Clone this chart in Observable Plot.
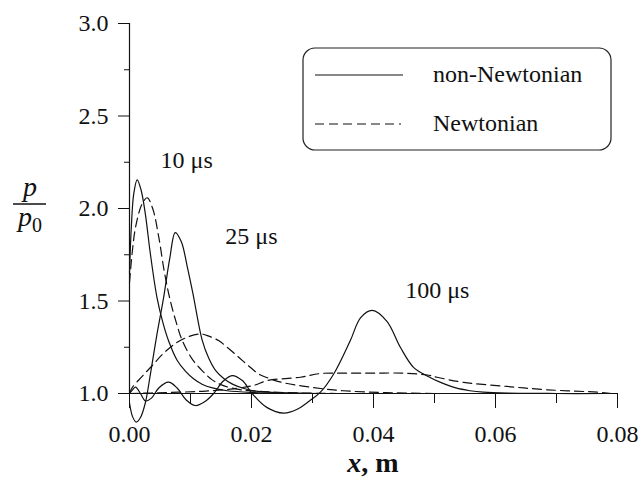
<!DOCTYPE html>
<html><head><meta charset="utf-8">
<script src="https://cdn.jsdelivr.net/npm/d3@7"></script>
<script src="https://cdn.jsdelivr.net/npm/@observablehq/plot@0.6"></script>
<style>
body{margin:0;background:#fff}
#chart svg, #chart svg text, #chart svg tspan { font-family: "Liberation Serif", serif !important; }
</style>
</head><body><div id="chart"></div>
<script>
// x in m, y = p/p0
const nonNewtonian10 = [[0,1.65],[0.0003,1.9],[0.0007,2.08],[0.00126,2.155],[0.0019,2.1],[0.0026,1.97],[0.0034,1.76],[0.0045,1.52],[0.0055,1.38],[0.0064,1.285],[0.0078,1.18],[0.0092,1.12],[0.0105,1.08],[0.0119,1.05],[0.0136,1.03],[0.016,1.015],[0.02,1.006],[0.026,1.002],[0.032,1.0]];
const newtonian10 = [[0,1.6],[0.0005,1.78],[0.001,1.9],[0.002,2.02],[0.0029,2.058],[0.0038,2.0],[0.0048,1.845],[0.0057,1.66],[0.0067,1.5],[0.0077,1.38],[0.0086,1.29],[0.0102,1.19],[0.0119,1.124],[0.0135,1.075],[0.0152,1.045],[0.0179,1.022],[0.022,1.01],[0.028,1.003],[0.034,1.0]];
const nonNewtonian25 = [[0,0.95],[0.0005,0.875],[0.0011,0.845],[0.0018,0.87],[0.0026,0.95],[0.0035,1.12],[0.0045,1.32],[0.0056,1.52],[0.0066,1.73],[0.0075,1.87],[0.0085,1.82],[0.0095,1.68],[0.0104,1.54],[0.0119,1.29],[0.013,1.19],[0.0141,1.125],[0.0155,1.08],[0.0168,1.052],[0.0185,1.03],[0.0201,1.016],[0.024,1.005],[0.03,1.0]];
const newtonian25 = [[0,1.0],[0.0004,1.03],[0.002,1.09],[0.0037,1.15],[0.0055,1.215],[0.0075,1.27],[0.0095,1.305],[0.0116,1.322],[0.013,1.31],[0.0146,1.286],[0.0162,1.245],[0.0179,1.196],[0.0195,1.15],[0.0212,1.105],[0.0226,1.085],[0.025,1.06],[0.0297,1.034],[0.035,1.015],[0.042,1.005],[0.05,1.0]];
const nonNewtonian100 = [[0,1.0],[0.0005,1.02],[0.001,1.034],[0.0018,1.0],[0.0026,0.96],[0.0036,0.975],[0.0048,1.03],[0.0064,1.061],[0.0078,1.03],[0.0093,0.965],[0.0108,0.935],[0.0123,0.955],[0.0138,1.0],[0.0153,1.065],[0.0168,1.097],[0.0185,1.07],[0.0201,1.0],[0.0225,0.925],[0.0253,0.894],[0.0275,0.915],[0.0295,0.96],[0.0313,1.007],[0.0335,1.107],[0.0362,1.286],[0.0379,1.41],[0.0398,1.449],[0.0422,1.39],[0.0444,1.25],[0.0466,1.14],[0.0488,1.095],[0.051,1.06],[0.0535,1.03],[0.0558,1.015],[0.058,1.007],[0.062,1.002],[0.07,1.0],[0.078,1.0]];
const newtonian100 = [[0,1.0],[0.006,1.005],[0.012,1.012],[0.017,1.025],[0.0205,1.045],[0.0226,1.07],[0.028,1.088],[0.0313,1.108],[0.035,1.11],[0.04,1.11],[0.045,1.11],[0.0488,1.1],[0.0504,1.088],[0.0548,1.06],[0.0619,1.038],[0.0685,1.02],[0.0767,1.007],[0.079,1.0]];

const xDomain = [0, 0.08];
const yDomain = [1, 3];
const xMajor = [0, 0.02, 0.04, 0.06, 0.08];
const xMinor = [0.01, 0.03, 0.05, 0.07];
const yMajor = [1.0, 1.5, 2.0, 2.5, 3.0];
const yMinor = [1.25, 1.75, 2.25, 2.75];
const legendLabels = ["non-Newtonian", "Newtonian"];
const timeLabels = ["10 μs", "25 μs", "100 μs"];
const timeLabelX = [0.0051, 0.0157, 0.0452];
const timeLabelY = [2.263, 1.852, 1.56];

const series = [
  {id: "nn10", model: "non-Newtonian", pts: nonNewtonian10},
  {id: "n10", model: "Newtonian", pts: newtonian10},
  {id: "nn25", model: "non-Newtonian", pts: nonNewtonian25},
  {id: "n25", model: "Newtonian", pts: newtonian25},
  {id: "nn100", model: "non-Newtonian", pts: nonNewtonian100},
  {id: "n100", model: "Newtonian", pts: newtonian100}
];
const rows = series.flatMap(s => s.pts.map(([x, y]) => ({x, y, id: s.id, model: s.model})));
const annotations = timeLabels.map((label, i) => ({label, x: timeLabelX[i], y: timeLabelY[i]}));

const serif = "'Liberation Serif', serif";
const plot = Plot.plot({
  width: 642, height: 478,
  marginLeft: 129, marginRight: 25, marginTop: 23, marginBottom: 85,
  style: {fontFamily: "Liberation Serif", fontSize: "24px", color: "#111", background: "#fff", overflow: "visible"},
  x: {domain: xDomain},
  y: {domain: yDomain},
  marks: [
    Plot.line(rows.filter(d => d.model === "non-Newtonian"), {x: "x", y: "y", z: "id", curve: "catmull-rom", stroke: "#111", strokeWidth: 1.2}),
    Plot.line(rows.filter(d => d.model === "Newtonian"), {x: "x", y: "y", z: "id", curve: "catmull-rom", stroke: "#111", strokeWidth: 1.2, strokeDasharray: "9,5"}),
    Plot.ruleX([xDomain[0]], {y1: yDomain[0], y2: yDomain[1], stroke: "#111", strokeWidth: 1.2}),
    Plot.ruleY([yDomain[0]], {x1: xDomain[0], x2: xDomain[1], stroke: "#111", strokeWidth: 1.2}),
    Plot.axisX(xMajor, {tickSize: 15, tickPadding: 16, tickFormat: d3.format(".2f"), label: null, fontSize: 24}),
    Plot.axisX(xMinor, {tickSize: 10, tickFormat: () => "", label: null}),
    Plot.axisY(yMajor, {tickSize: 11, tickPadding: 10, tickFormat: d3.format(".1f"), label: null, fontSize: 24}),
    Plot.axisY(yMinor, {tickSize: 5, tickFormat: () => "", label: null}),
    Plot.text(annotations, {x: "x", y: "y", text: "label", textAnchor: "start", fontSize: 24, fill: "#111"})
  ]
});
document.getElementById("chart").append(plot);

const svg = d3.select(plot);
// legend
const lg = svg.append("g").attr("font-size", 24).attr("fill", "#111").attr("text-anchor", "start");
lg.append("rect").attr("x", 303).attr("y", 48).attr("width", 308).attr("height", 102).attr("rx", 12)
  .attr("fill", "none").attr("stroke", "#222").attr("stroke-width", 1.2);
lg.append("line").attr("x1", 315).attr("x2", 403).attr("y1", 75).attr("y2", 75).attr("stroke", "#111").attr("stroke-width", 1.2);
lg.append("line").attr("x1", 315).attr("x2", 401).attr("y1", 124).attr("y2", 124).attr("stroke", "#111").attr("stroke-width", 1.2).attr("stroke-dasharray", "9,5");
lg.append("text").attr("x", 433).attr("y", 82).text(legendLabels[0]);
lg.append("text").attr("x", 433).attr("y", 131).text(legendLabels[1]);

// y label p/p0
const yl = svg.append("g").attr("fill", "#111");
yl.append("text").attr("x", 30).attr("y", 196).attr("text-anchor", "middle").attr("font-size", 28).style("font-style", "italic").text("p");
yl.append("line").attr("x1", 13).attr("x2", 46).attr("y1", 204).attr("y2", 204).attr("stroke", "#111").attr("stroke-width", 1.5);
const den = yl.append("text").attr("x", 30).attr("y", 226).attr("text-anchor", "middle").attr("font-size", 28);
den.append("tspan").style("font-style", "italic").text("p");
den.append("tspan").attr("font-size", 20).attr("dy", 6).text("0");

// x label
const xl = svg.append("text").attr("x", 373).attr("y", 472).attr("text-anchor", "middle")
  .attr("font-size", 28).style("font-weight", "bold").attr("fill", "#111");
xl.append("tspan").style("font-style", "italic").text("x");
xl.append("tspan").text(", m");

svg.style("font-family", serif, "important");
svg.selectAll("text, tspan").style("font-family", serif, "important");
</script>
</body></html>
